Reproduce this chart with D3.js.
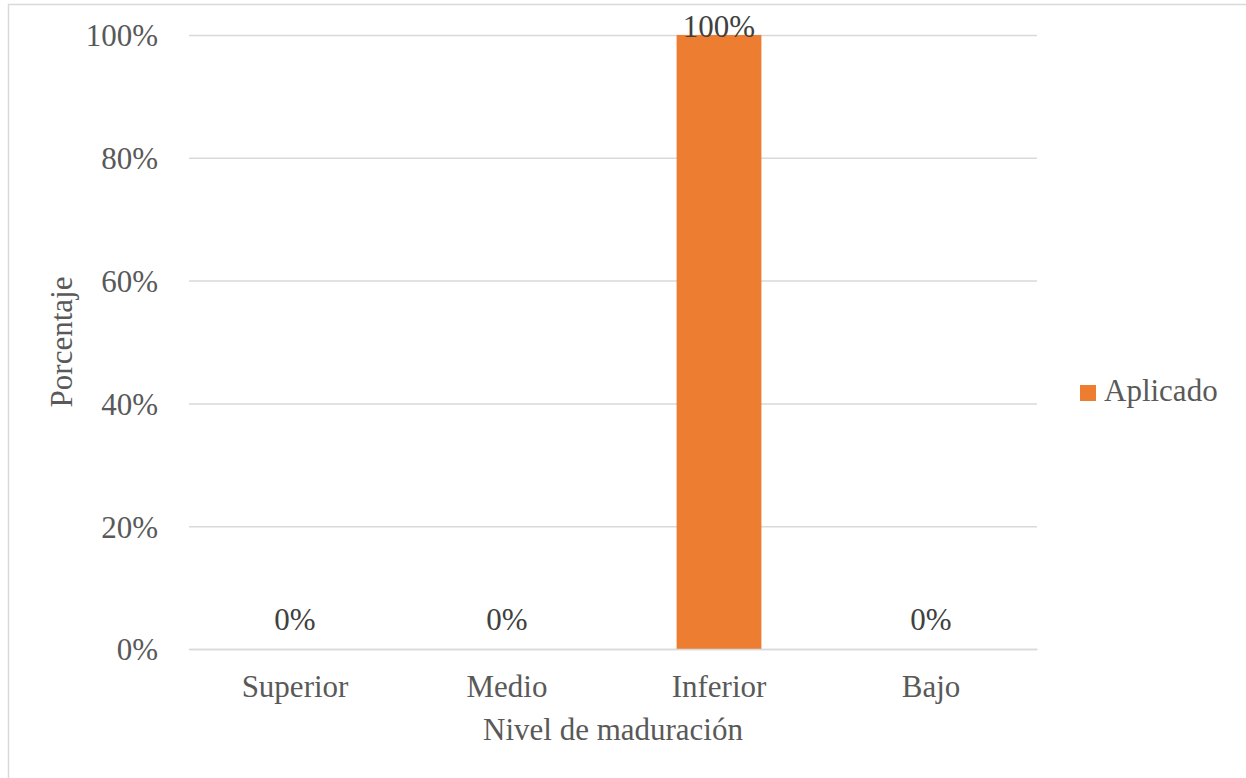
<!DOCTYPE html>
<html><head><meta charset="utf-8">
<script src="https://cdn.jsdelivr.net/npm/d3@7"></script>
<style>body{margin:0;background:#fff}svg{display:block}text{font-family:"Liberation Serif","Times New Roman",serif;fill:#595959}</style>
</head><body><svg id="c" width="1246" height="778"></svg>
<script>
const categories = ["Superior", "Medio", "Inferior", "Bajo"];
const values = [0, 0, 1, 0];
const seriesName = "Aplicado";
const yTicks = [0, 0.2, 0.4, 0.6, 0.8, 1];
const xTitle = "Nivel de maduración";
const yTitle = "Porcentaje";

const svg = d3.select("#c");
const fs = 31;
svg.append("rect").attr("x", 8.5).attr("y", 4.5).attr("width", 1260).attr("height", 800)
  .attr("fill", "#fff").attr("stroke", "#d9d9d9").attr("stroke-width", 1.5);

const L = 189, R = 1037, T = 35, B = 649;
const x = d3.scaleBand().domain(categories).range([L, R]).paddingInner(0.6).paddingOuter(0.3);
const y = d3.scaleLinear().domain([0, 1]).range([B, T]);
const fmt = d3.format(".0%");

const yAxis = svg.append("g").attr("transform", `translate(${L},0)`)
  .call(d3.axisLeft(y).tickValues(yTicks).tickFormat(fmt).tickSize(-(R - L)).tickPadding(31));
yAxis.select(".domain").remove();
yAxis.selectAll("line").attr("stroke", "#d9d9d9").attr("stroke-width", 1.5);
yAxis.selectAll("text").attr("font-size", fs).attr("font-family", "Liberation Serif").attr("fill", "#595959").attr("dy", "0.35em");

svg.selectAll("rect.bar").data(values).enter().append("rect").attr("class", "bar")
  .attr("x", (d, i) => x(categories[i])).attr("width", x.bandwidth())
  .attr("y", d => y(d)).attr("height", d => B - y(d)).attr("fill", "#ed7d31");

svg.selectAll("text.val").data(values).enter().append("text").attr("class", "val")
  .attr("x", (d, i) => x(categories[i]) + x.bandwidth() / 2)
  .attr("y", d => y(d) - 19 + 21)
  .attr("dy", d => d === 0 ? -21 : 0)
  .attr("text-anchor", "middle").attr("font-size", fs)
  .style("fill", d => d === 0 ? "#404040" : "#404040")
  .text(d => fmt(d));

const xAxis = svg.append("g").attr("transform", `translate(0,${B})`)
  .call(d3.axisBottom(x).tickSize(0).tickPadding(0));
xAxis.select(".domain").attr("stroke", "#d9d9d9").attr("stroke-width", 1.5);
xAxis.selectAll("text").attr("font-size", fs).attr("font-family", "Liberation Serif").attr("fill", "#595959")
  .attr("dy", null).attr("y", 48);

svg.append("text").attr("x", (L + R) / 2).attr("y", 740).attr("text-anchor", "middle")
  .attr("font-size", fs).text(xTitle);
svg.append("text").attr("transform", `translate(72,${(T + B) / 2}) rotate(-90)`)
  .attr("text-anchor", "middle").attr("font-size", fs).text(yTitle);

const lg = svg.append("g");
lg.append("rect").attr("x", 1080).attr("y", 385).attr("width", 16).attr("height", 16).attr("fill", "#ed7d31");
lg.append("text").attr("x", 1104).attr("y", 401).attr("font-size", fs).text(seriesName);
</script></body></html>
